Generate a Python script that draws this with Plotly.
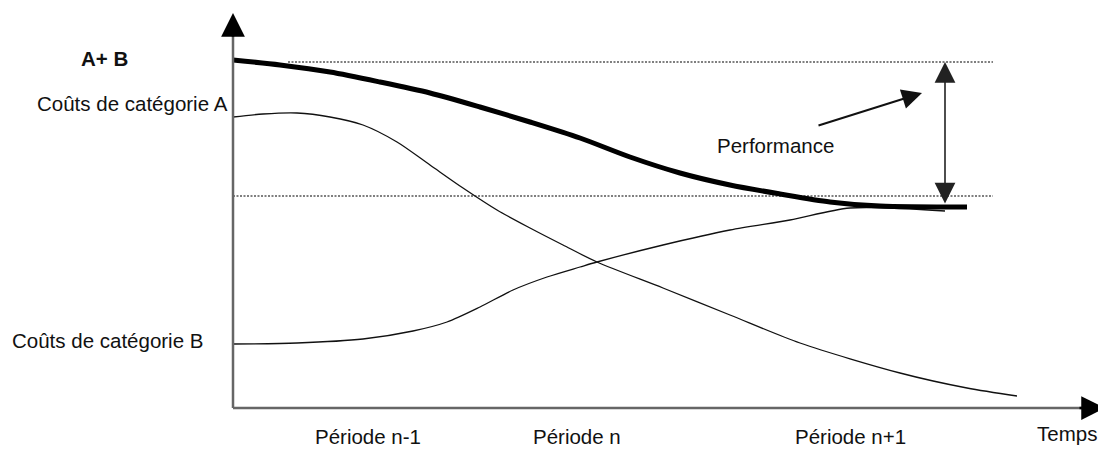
import plotly.graph_objects as go

# ---- data (conceptual units: time on x, cost on y) ----
time_ab = [0, 0.47, 0.97, 1.47, 1.97, 2.47, 2.97, 3.47, 3.97, 4.47, 4.97, 5.47, 5.97, 6.47, 7.34]
cost_ab = [3.48, 3.43, 3.36, 3.26, 3.15, 3.01, 2.86, 2.70, 2.51, 2.35, 2.23, 2.14, 2.06, 2.02, 2.01]

time_a = [0, 0.30, 0.64, 0.97, 1.30, 1.64, 1.97, 2.30, 2.64, 2.97, 3.30, 3.64, 4.30, 4.97, 5.67, 6.67, 7.34, 7.84]
cost_a = [2.91, 2.94, 2.95, 2.91, 2.83, 2.66, 2.43, 2.20, 1.98, 1.80, 1.63, 1.46, 1.20, 0.93, 0.65, 0.35, 0.20, 0.12]

time_b = [0, 0.64, 1.30, 1.80, 2.14, 2.47, 2.80, 3.14, 3.47, 3.64, 4.30, 4.97, 5.57, 6.17, 7.12]
cost_b = [0.64, 0.65, 0.69, 0.77, 0.86, 1.01, 1.18, 1.31, 1.41, 1.46, 1.63, 1.78, 1.88, 2.00, 1.97]

level_top = 3.46
level_bottom = 2.12
level_top_x = [0.55, 7.6]
level_bottom_x = [0, 7.6]

period_labels = ["Période n-1", "Période n", "Période n+1"]
period_pos = [1.35, 3.44, 6.17]

FONT = "Liberation Sans, Arial, sans-serif"
FS = 20.5

fig = go.Figure()

# dotted reference levels
for xs, lv in ((level_top_x, level_top), (level_bottom_x, level_bottom)):
    fig.add_trace(go.Scatter(x=xs, y=[lv, lv], mode="lines",
                             line=dict(color="#000", width=1.2, dash="2px,1.5px"), hoverinfo="skip"))

# curves
fig.add_trace(go.Scatter(x=time_a, y=cost_a, mode="lines",
                         line=dict(color="#111", width=1.3, shape="spline", smoothing=0.8)))
fig.add_trace(go.Scatter(x=time_b, y=cost_b, mode="lines",
                         line=dict(color="#111", width=1.3, shape="spline", smoothing=0.8)))
fig.add_trace(go.Scatter(x=time_ab, y=cost_ab, mode="lines",
                         line=dict(color="#000", width=5, shape="spline", smoothing=0.8)))

# axes lines
fig.add_trace(go.Scatter(x=[0, 0], y=[0, 3.8], mode="lines", line=dict(color="#666", width=2.5)))
fig.add_trace(go.Scatter(x=[0, 8.58], y=[0, 0], mode="lines", line=dict(color="#666", width=2.5)))

annotations = []
# axis arrowheads
annotations.append(dict(x=0, y=3.95, ax=0, ay=3.7, xref="x", yref="y", axref="x", ayref="y",
                        text="", showarrow=True, arrowhead=2, arrowsize=1.9, arrowwidth=2.5, arrowcolor="#000"))
annotations.append(dict(x=8.72, y=0, ax=8.45, ay=0, xref="x", yref="y", axref="x", ayref="y",
                        text="", showarrow=True, arrowhead=2, arrowsize=1.9, arrowwidth=2.5, arrowcolor="#000"))
# performance double arrow
annotations.append(dict(x=7.12, y=level_top, ax=7.12, ay=2.03, xref="x", yref="y", axref="x", ayref="y",
                        text="", showarrow=True, arrowhead=2, startarrowhead=2, arrowside="end+start",
                        arrowsize=2.6, startarrowsize=2.6, arrowwidth=1.6, arrowcolor="#222"))
# slanted arrow
annotations.append(dict(x=6.89, y=3.15, ax=5.84, ay=2.82, xref="x", yref="y", axref="x", ayref="y",
                        text="", showarrow=True, arrowhead=2, arrowsize=2.0, arrowwidth=2, arrowcolor="#111"))

def label(text, x, y, xanchor="center", yanchor="middle", bold=False):
    return dict(x=x, y=y, xref="x", yref="y", text=("<b>%s</b>" % text) if bold else text,
                showarrow=False, xanchor=xanchor, yanchor=yanchor,
                font=dict(family=FONT, size=FS, color="#111"))

annotations.append(label("A+ B", -1.29, 3.50, bold=True))
annotations.append(label("Coûts de catégorie A", -0.03, 3.05, xanchor="right"))
annotations.append(label("Coûts de catégorie B", -2.23, 0.68, xanchor="left"))
annotations.append(label("Performance", 5.42, 2.63))
for t, p in zip(period_labels, period_pos):
    annotations.append(label(t, p, -0.42, yanchor="bottom"))
annotations.append(label("Temps", 8.34, -0.25))

# page body has an 8px margin: figure covers pixels 8..1106 x 8..450
fig.update_layout(
    width=1098, height=442,
    margin=dict(l=0, r=0, t=0, b=0),
    paper_bgcolor="white", plot_bgcolor="white",
    showlegend=False,
    xaxis=dict(range=[-2.25, 8.73], visible=False, fixedrange=True),
    yaxis=dict(range=[-0.42, 4.00], visible=False, fixedrange=True),
    annotations=annotations,
)

fig.write_html("out.html")
